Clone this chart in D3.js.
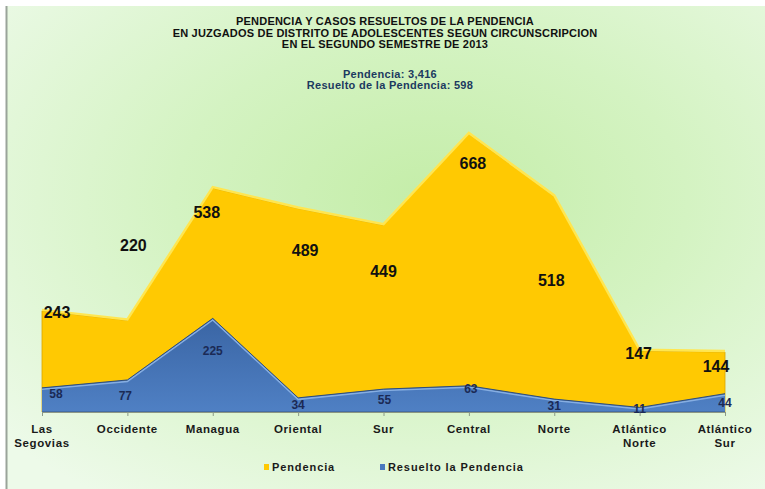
<!DOCTYPE html>
<meta charset="utf-8">
<script src="https://d3js.org/d3.v7.min.js"></script>
<style type="text/css">
body { margin:0; background:#fff; }
svg { display:block; font-family: Arial, "Liberation Sans", sans-serif; }
.axis path { display:none; }
.axis line { stroke:#8a9a88; }
.title text { font-weight:bold; font-size:11px; fill:#111; letter-spacing:0.2px; }
.sub text { font-weight:bold; font-size:11px; fill:#1c3a60; letter-spacing:0.3px; }
.cat text { font-weight:bold; font-size:11.5px; fill:#1a1a1a; letter-spacing:0.6px; }
.lblP { font-weight:bold; font-size:16px; fill:#111; }
.lblR { font-weight:bold; font-size:12px; fill:#1b2a55; }
.legend text { font-weight:bold; font-size:11px; fill:#1a1a1a; letter-spacing:0.9px; }
</style>
<body></body>
<script>

// data
var regions = ["Las Segovias", "Occidente", "Managua", "Oriental", "Sur", "Central", "Norte", "Atlántico Norte", "Atlántico Sur"];
var pendencia = [243, 220, 538, 489, 449, 668, 518, 147, 144];
var resuelto = [58, 77, 225, 34, 55, 63, 31, 11, 44];
var titleLines = ["PENDENCIA Y CASOS RESUELTOS DE LA PENDENCIA",
                  "EN JUZGADOS DE DISTRITO DE ADOLESCENTES  SEGUN CIRCUNSCRIPCION",
                  "EN EL SEGUNDO SEMESTRE DE 2013"];
var subLines = ["Pendencia: 3,416", "Resuelto de la Pendencia: 598"];
var seriesNames = ["Pendencia", "Resuelto la Pendencia"];

// label nudges (the 3d chart puts labels in odd spots)
var nudgeP = [[15, 2], [6, -75], [-6, 24], [7, 42], [0, 46], [4, 29], [-3, 84], [-1, 3], [-9, 14]];
var nudgeR = [[14, 6], [-2, 16], [0, 33], [0, 7], [1, 11], [2, 3], [0, 7], [0, 2], [0, 9]];

var W = 765, H = 489;
var svg = d3.select("body").append("svg").attr("width", W).attr("height", H);

var defs = svg.append("defs");
var bg = defs.append("radialGradient").attr("id", "bg")
  .attr("cx", "56%").attr("cy", "40%").attr("r", "75%");
bg.append("stop").attr("offset", "0%").attr("stop-color", "#c4eda8");
bg.append("stop").attr("offset", "45%").attr("stop-color", "#d4f3c2");
bg.append("stop").attr("offset", "100%").attr("stop-color", "#edfae9");

var blueGrad = defs.append("linearGradient").attr("id", "blueGrad")
  .attr("x1", 0).attr("y1", 0).attr("x2", 0).attr("y2", 1);
blueGrad.append("stop").attr("offset", "0%").attr("stop-color", "#3a65a4");
blueGrad.append("stop").attr("offset", "100%").attr("stop-color", "#4f80c4");

// background
svg.append("rect").attr("x", 6).attr("y", 6).attr("width", W - 6).attr("height", H - 6)
  .style("fill", "url(#bg)");
svg.append("line").attr("x1", 6.5).attr("x2", 6.5).attr("y1", 6).attr("y2", H)
  .style("stroke", "#9aa49a").style("stroke-width", 2);

// scales
var xScale = d3.scalePoint().domain(regions).range([42, 725]);
var yScale = d3.scaleLinear().domain([0, 668]).range([412, 134]);

var idx = d3.range(regions.length);

var areaP = d3.area()
  .x(function(i) { return xScale(regions[i]); })
  .y0(yScale(0))
  .y1(function(i) { return yScale(pendencia[i]); });
var lineP = d3.line()
  .x(function(i) { return xScale(regions[i]); })
  .y(function(i) { return yScale(pendencia[i]) - 1; });

var areaR = d3.area()
  .x(function(i) { return xScale(regions[i]); })
  .y0(yScale(0))
  .y1(function(i) { return yScale(resuelto[i]); });
var lineR = d3.line()
  .x(function(i) { return xScale(regions[i]); })
  .y(function(i) { return yScale(resuelto[i]); });

// pendencia area
svg.append("path").datum(idx).attr("d", areaP)
  .style("fill", "#ffc902").style("stroke", "#d9a400").style("stroke-width", 0.8);
svg.append("path").datum(idx).attr("d", lineP)
  .style("fill", "none").style("stroke", "#ffe650").style("stroke-width", 2.5);

// resuelto area
svg.append("path").datum(idx).attr("d", areaR)
  .style("fill", "url(#blueGrad)").style("stroke", "none");
svg.append("path").datum(idx).attr("d", lineR)
  .attr("transform", "translate(0,1.5)")
  .style("fill", "none").style("stroke", "#86aee2").style("stroke-width", 1.5);
svg.append("path").datum(idx).attr("d", lineR)
  .style("fill", "none").style("stroke", "#2d4c7c").style("stroke-width", 1);
svg.append("line").attr("x1", xScale(regions[0])).attr("x2", xScale(regions[regions.length - 1]))
  .attr("y1", yScale(0)).attr("y2", yScale(0))
  .style("stroke", "#3b5a86").style("stroke-width", 1);

// axis ticks
var xAxis = d3.axisBottom(xScale).tickSize(4).tickFormat("");
svg.append("g").attr("class", "x axis")
  .attr("transform", "translate(0," + yScale(0) + ")")
  .call(xAxis);

// category labels
var cat = svg.append("g").attr("class", "cat");
regions.forEach(function(r) {
  var words = r.split(" ");
  var t = cat.append("text").attr("text-anchor", "middle")
    .attr("x", xScale(r)).attr("y", 433);
  words.forEach(function(w, k) {
    t.append("tspan").attr("x", xScale(r)).attr("dy", k ? 14 : 0).text(w);
  });
});

// value labels
svg.selectAll(".lblP").data(idx).enter().append("text")
  .attr("class", "lblP").attr("text-anchor", "middle").attr("dominant-baseline", "central")
  .attr("x", function(i) { return xScale(regions[i]) + nudgeP[i][0]; })
  .attr("y", function(i) { return yScale(pendencia[i]) + nudgeP[i][1]; })
  .text(function(i) { return pendencia[i]; });

svg.selectAll(".lblR").data(idx).enter().append("text")
  .attr("class", "lblR").attr("text-anchor", "middle").attr("dominant-baseline", "central")
  .attr("x", function(i) { return xScale(regions[i]) + nudgeR[i][0]; })
  .attr("y", function(i) { return yScale(resuelto[i]) + nudgeR[i][1]; })
  .text(function(i) { return resuelto[i]; });

// titles
svg.append("g").attr("class", "title").selectAll("text")
  .data(titleLines).enter().append("text")
  .attr("text-anchor", "middle").attr("x", 385)
  .attr("y", function(d, i) { return 25 + i * 11.5; })
  .text(function(d) { return d; });

svg.append("g").attr("class", "sub").selectAll("text")
  .data(subLines).enter().append("text")
  .attr("text-anchor", "middle").attr("x", 390)
  .attr("y", function(d, i) { return 78 + i * 11; })
  .text(function(d) { return d; });

// legend
var legend = svg.append("g").attr("class", "legend");
var legX = [267, 383], legCol = ["#ffc902", "#4a78be"];
seriesNames.forEach(function(n, i) {
  legend.append("rect").attr("x", legX[i] - 3).attr("y", 464).attr("width", 5).attr("height", 6)
    .style("fill", legCol[i]);
  legend.append("text").attr("x", legX[i] + 5).attr("y", 471).text(n);
});

</script>
